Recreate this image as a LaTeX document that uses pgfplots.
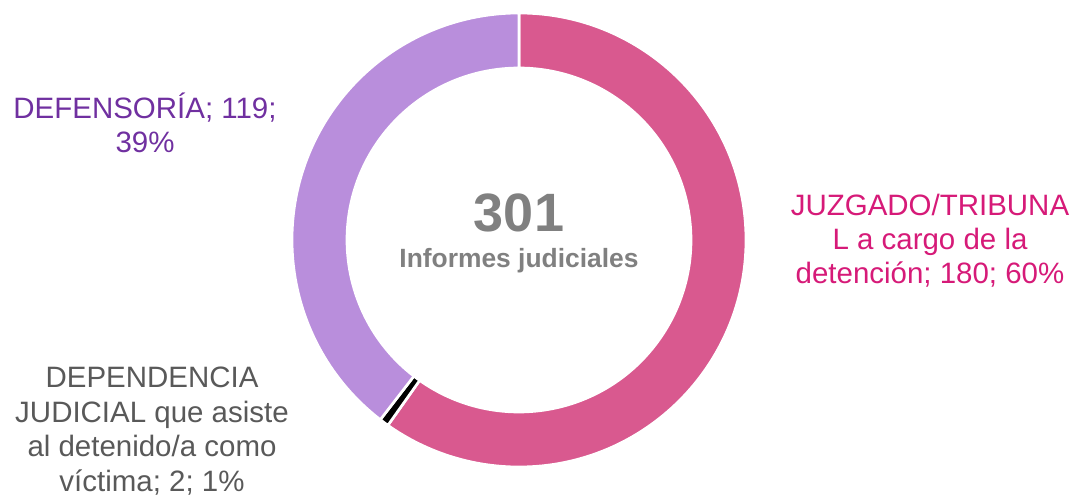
\documentclass[border=0pt]{standalone}
\usepackage{pgfplots}
\pgfplotsset{compat=1.18}
\usepackage{pgfplotstable}
\usepackage{fontspec}
\setmainfont{Liberation Sans}
\definecolor{cJuz}{RGB}{217,89,143}
\definecolor{cDep}{RGB}{0,0,0}
\definecolor{cDef}{RGB}{185,142,220}
\definecolor{tJuz}{RGB}{214,26,120}
\definecolor{tDep}{RGB}{89,89,89}
\definecolor{tDef}{RGB}{112,48,160}
\definecolor{tCen}{RGB}{128,128,128}

\pgfplotstableread{
label value
Juzgado 180
Dependencia 2
Defensoria 119
}\datatable

\pgfplotstablegetelem{0}{value}\of\datatable \let\vA\pgfplotsretval
\pgfplotstablegetelem{1}{value}\of\datatable \let\vB\pgfplotsretval
\pgfplotstablegetelem{2}{value}\of\datatable \let\vC\pgfplotsretval
\pgfmathsetmacro\total{\vA+\vB+\vC}
\pgfmathsetmacro\aA{90}
\pgfmathsetmacro\aB{\aA-\vA/\total*360}
\pgfmathsetmacro\aC{\aB-\vB/\total*360}
\pgfmathsetmacro\aD{\aC-\vC/\total*360}

% slice: colour, start angle, end angle (centre 519,256 px; outer 227 px, inner 172 px; 1px = 0.75pt)
\newcommand\slice[3]{%
  \fill[#1, draw=white, line width=2pt, line join=miter]
    ({519+227*cos(#2)},{256+227*sin(#2)})
    arc[start angle=#2, end angle=#3, radius=170.25pt]
    -- ({519+172*cos(#3)},{256+172*sin(#3)})
    arc[start angle=#3, end angle=#2, radius=129pt] -- cycle;}

\begin{document}
\begin{tikzpicture}
\begin{axis}[
  x=0.75pt, y=0.75pt,
  xmin=0, xmax=1072, ymin=0, ymax=496,
  hide axis, clip=false,
]
\path (0,0) rectangle (1072,496);
\slice{cJuz}{\aA}{\aB}
\slice{cDep}{\aB}{\aC}
\slice{cDef}{\aC}{\aD}

% centre
\node[anchor=base, inner sep=0, text=tCen, font=\bfseries\fontsize{40.5}{44}\selectfont] at (519,264) {301};
\node[anchor=base, inner sep=0, text=tCen, font=\bfseries\fontsize{19.8}{23}\selectfont] at (519,228) {Informes judiciales};

% labels
\begin{scope}[every node/.style={anchor=base, inner sep=0, font=\fontsize{22.1}{26}\selectfont}]
\node[text=tDef] at (145,377) {DEFENSORÍA; 119;};
\node[text=tDef] at (145,343) {39\%};

\node[text=tJuz] at (930,280) {JUZGADO/TRIBUNA};
\node[text=tJuz] at (930,246) {L a cargo de la};
\node[text=tJuz] at (930,212) {detención; 180; 60\%};

\node[text=tDep] at (152,108) {DEPENDENCIA};
\node[text=tDep] at (152,73) {JUDICIAL que asiste};
\node[text=tDep] at (152,39) {al detenido/a como};
\node[text=tDep] at (152,4) {víctima; 2; 1\%};
\end{scope}
\end{axis}
\pgfresetboundingbox
\useasboundingbox (current axis.south west) rectangle (current axis.north east);
\end{tikzpicture}
\end{document}
